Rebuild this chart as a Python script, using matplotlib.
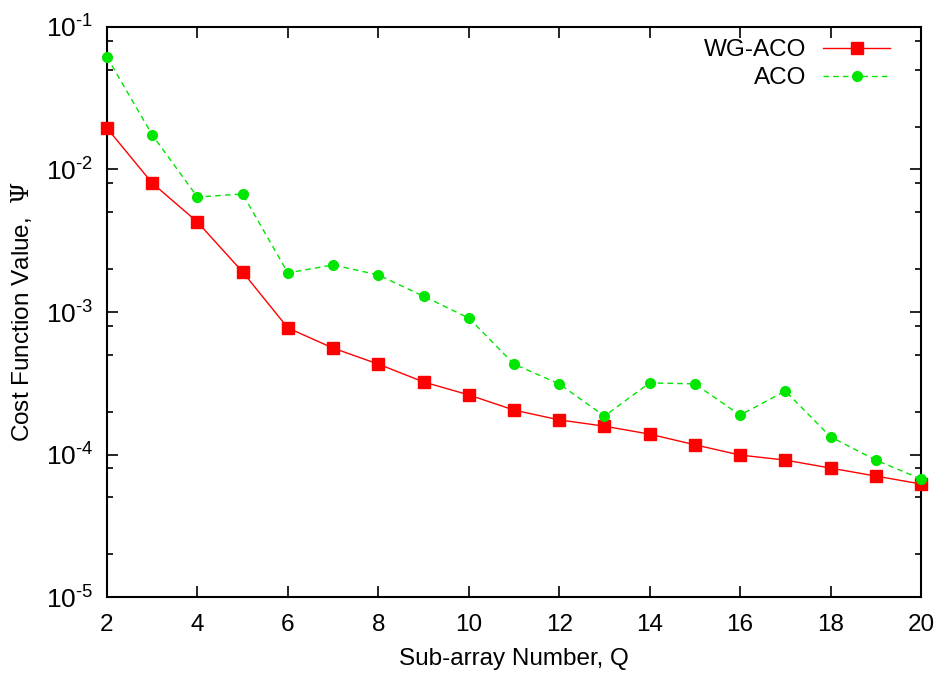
import numpy as np
import matplotlib.pyplot as plt
from matplotlib.ticker import LogLocator, FuncFormatter, MultipleLocator, NullFormatter

plt.rcParams['font.family'] = ['Liberation Sans', 'DejaVu Sans']
plt.rcParams['mathtext.fontset'] = 'custom'
plt.rcParams['mathtext.rm'] = 'Liberation Sans'
plt.rcParams['mathtext.it'] = 'Liberation Serif'
plt.rcParams['mathtext.bf'] = 'DejaVu Serif'

# cost function value vs. number of sub-arrays
Q = [2, 3, 4, 5, 6, 7, 8, 9, 10, 11, 12, 13, 14, 15, 16, 17, 18, 19, 20]
wg_aco = [0.0195, 0.00803, 0.00428, 0.00191, 0.000773, 0.000558, 0.000431,
          0.000323, 0.000262, 0.000205, 0.000175, 0.000158, 0.000139,
          0.000117, 0.0000991, 0.0000914, 0.0000803, 0.0000706, 0.0000621]
aco = [0.0615, 0.0175, 0.00641, 0.00673, 0.00188, 0.00214, 0.00182,
       0.00129, 0.000907, 0.000431, 0.000313, 0.000186, 0.000318,
       0.000313, 0.000189, 0.000279, 0.000133, 0.0000914, 0.0000673]

FS = 17.5

fig = plt.figure(figsize=(9.4, 6.73), dpi=100)
ax = fig.add_axes([0.1138, 0.1129, 0.866, 0.847])

ax.plot(Q, wg_aco, color='#ff0000', linewidth=1.0, marker='s', markersize=8.3,
        label='WG-ACO', clip_on=False, zorder=3)
ax.plot(Q, aco, color='#00e600', linewidth=1.0, linestyle=(0, (4, 3)),
        marker='o', markersize=7, label='ACO', clip_on=False, zorder=4)

ax.set_yscale('log')
ax.set_xlim(2, 20)
ax.set_ylim(1e-5, 1e-1)

ax.xaxis.set_major_locator(MultipleLocator(2))
ax.yaxis.set_major_locator(LogLocator(base=10, numticks=10))
ax.yaxis.set_minor_locator(LogLocator(base=10, subs=[2, 5, 8], numticks=10))
ax.yaxis.set_minor_formatter(NullFormatter())
ax.yaxis.set_major_formatter(FuncFormatter(
    lambda v, p: r'$\mathregular{10^{\text{-}%d}}$' % abs(round(np.log10(v)))))

ax.tick_params(which='both', direction='in', top=True, right=True,
               labelsize=FS, width=1.2)
ax.tick_params(which='major', length=8, pad=8)
ax.tick_params(axis='x', which='major', pad=12)
ax.tick_params(axis='y', which='major', labelsize=19, pad=10)
ax.tick_params(which='minor', length=4)
for s in ax.spines.values():
    s.set_linewidth(1.5)

ax.set_xlabel('Sub-array Number, Q', fontsize=FS, labelpad=9)
ax.set_ylabel(r'Cost Function Value,  $\mathbf{\Psi}$', fontsize=FS, labelpad=8)

ax.legend(loc='upper right', bbox_to_anchor=(0.977, 1.0), frameon=False,
          markerfirst=False, fontsize=FS, handlelength=2.75,
          borderaxespad=0.1, labelspacing=0.25, handletextpad=0.7)

fig.savefig('out.png', dpi=100)
